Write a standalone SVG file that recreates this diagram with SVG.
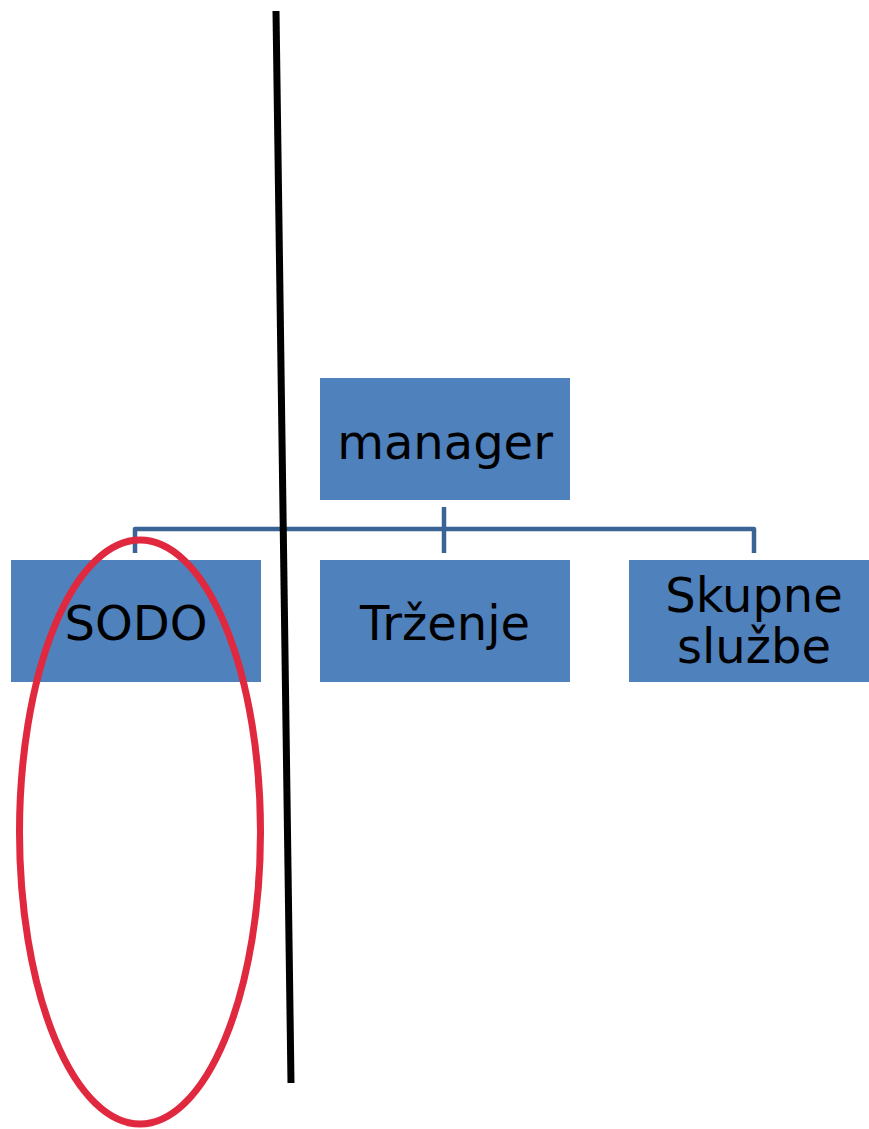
<svg xmlns="http://www.w3.org/2000/svg" width="869" height="1129" viewBox="0 0 869 1129">
<style>
.box{fill:#4f81bd}
.lbl{font-family:"DejaVu Sans",Verdana,sans-serif;font-size:48px;fill:#000;text-anchor:middle}
.conn{fill:none;stroke:#3a6496;stroke-width:4.5;stroke-linejoin:round}
</style>
<rect width="869" height="1129" fill="#fff"/>
<g id="connectors">
<path class="conn" d="M135,553 V529 H754 V553"/>
<path class="conn" d="M444,507 V553"/>
</g>
<g id="manager"><rect class="box" x="320" y="378" width="250" height="122"/><text class="lbl" x="445" y="459">manager</text></g>
<g id="sodo"><rect class="box" x="11" y="560" width="250" height="122"/><text class="lbl" x="136" y="640">SODO</text></g>
<g id="trzenje"><rect class="box" x="320" y="560" width="250" height="122"/><text class="lbl" x="445" y="640">Trženje</text></g>
<g id="skupne"><rect class="box" x="629" y="560" width="250" height="122"/><text class="lbl" x="754" y="612">Skupne<tspan x="754" y="663">službe</tspan></text></g>
<line id="divider" x1="276" y1="11" x2="291" y2="1083" stroke="#000" stroke-width="7"/>
<ellipse id="highlight" cx="140" cy="832" rx="120.5" ry="292" fill="none" stroke="#e0283f" stroke-width="7"/>
</svg>
